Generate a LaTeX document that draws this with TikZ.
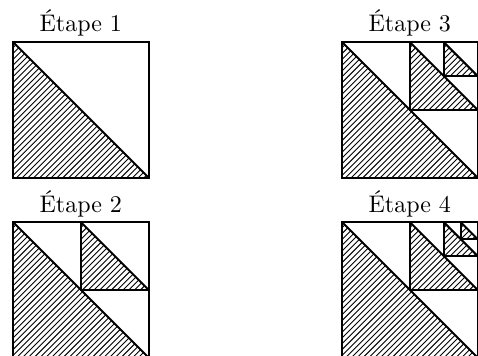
\documentclass[tikz,border=0pt]{standalone}
\tikzset{
  frame/.style={line width=0.8pt, line join=miter},
  hatchline/.style={line width=0.36pt},
  lbl/.style={anchor=base, inner sep=0pt, font=\fontsize{9.6}{11}\selectfont},
}
\newcommand{\hatchtri}[3]{%
  \begin{scope}
    \clip (#1,#2) -- (#1,#2+#3) -- (#1+#3,#2+#3) -- cycle;
    \pgfmathtruncatemacro{\nn}{2*#3/5.8+2}
    \foreach \k in {0,...,\nn} {
      \draw[hatchline] ({#1-#3+\k*5.8},{#2+#3}) -- ++(#3+2,-#3-2);
    }
  \end{scope}
  \draw[frame] (#1,#2) rectangle ++(#3,#3);
  \draw[frame] (#1,#2) -- ++(#3,#3);
}
\begin{document}
\begin{tikzpicture}[x=0.4pt,y=-0.4pt]
  \useasboundingbox (0,0) rectangle (478,355);
  % Etape 1
  \node[lbl] (l1) at (80.75,31.5) {Étape 1};
  \hatchtri{13}{42}{135.5}
  % Etape 2
  \node[lbl] (l2) at (80.75,212) {Étape 2};
  \hatchtri{13}{222}{135.5}
  \hatchtri{80.75}{222}{67.75}
  % Etape 3
  \node[lbl] (l3) at (409.75,31.5) {Étape 3};
  \hatchtri{342}{42}{135.5}
  \hatchtri{409.75}{42}{67.75}
  \hatchtri{443.625}{42}{33.875}
  % Etape 4
  \node[lbl] (l4) at (409.75,212) {Étape 4};
  \hatchtri{342}{222}{135.5}
  \hatchtri{409.75}{222}{67.75}
  \hatchtri{443.625}{222}{33.875}
  \hatchtri{460.5625}{222}{16.9375}
\end{tikzpicture}
\end{document}
